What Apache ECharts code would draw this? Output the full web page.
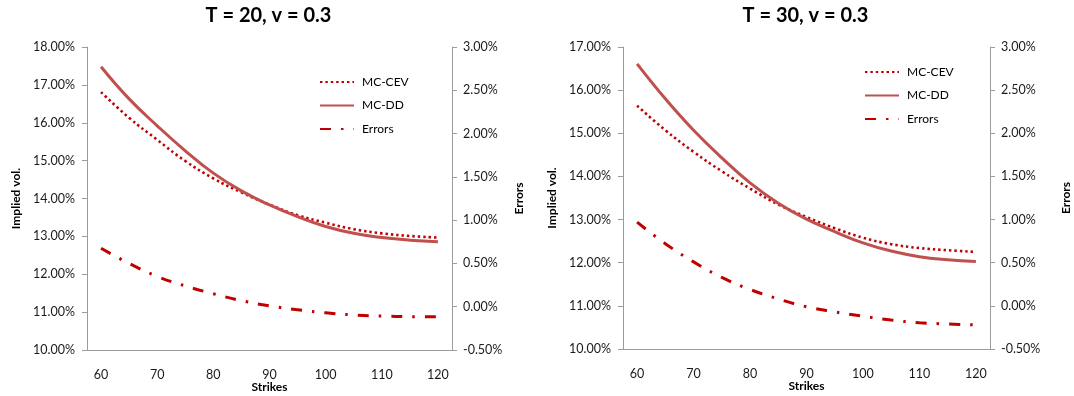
<!DOCTYPE html>
<html>
<head>
<meta charset="utf-8">
<script src="https://cdn.jsdelivr.net/npm/echarts@6/dist/echarts.min.js"></script>
<style>
body { margin: 0; background: #ffffff; }
#wrap { width: 1074px; height: 396px; position: relative; }
.half { position: absolute; top: 0; height: 396px; width: 537px; }
</style>
</head>
<body>
<div id="wrap">
    <div id="chart20" class="half" style="left: 0;"></div>
    <div id="chart30" class="half" style="left: 537px;"></div>
</div>
<script>
// strikes on the x axis
var strikes = ['60', '65', '70', '75', '80', '85', '90', '95', '100', '105', '110', '115', '120']

// T = 20 (implied vol in %, errors in %)
var cev20 = [16.81, 16.13, 15.55, 14.99, 14.53, 14.16, 13.84, 13.56, 13.36, 13.19, 13.08, 13.01, 12.97]
var dd20 = [17.48, 16.63, 15.92, 15.26, 14.67, 14.20, 13.83, 13.52, 13.26, 13.08, 12.97, 12.90, 12.86]
var err20 = [0.676, 0.50, 0.35, 0.24, 0.15, 0.07, 0.01, -0.035, -0.07, -0.095, -0.108, -0.115, -0.117]

// T = 30
var cev30 = [15.64, 15.07, 14.57, 14.12, 13.72, 13.35, 13.06, 12.80, 12.58, 12.43, 12.34, 12.29, 12.25]
var dd30 = [16.61, 15.80, 15.07, 14.43, 13.85, 13.38, 13.01, 12.72, 12.46, 12.27, 12.14, 12.07, 12.03]
var err30 = [0.97, 0.72, 0.51, 0.33, 0.19, 0.08, -0.01, -0.07, -0.12, -0.165, -0.195, -0.21, -0.22]

// axis ranges (%)
var volRange20 = [10, 18]
var volRange30 = [10, 17]
var errRange = [-0.5, 3]

var FONT = 'Lato, "Open Sans", sans-serif'
var AXIS_GREY = '#9c9c9c'

function pct (v) {
    return v.toFixed(2) + '%'
}

function buildOption (cfg) {
    return {
        animation: false,
        textStyle: { fontFamily: FONT },
        title: {
            text: cfg.title,
            left: 'center',
            top: 1,
            textStyle: { fontFamily: FONT, fontSize: 20, fontWeight: 'bold', color: '#000' }
        },
        legend: {
            orient: 'vertical',
            left: cfg.legendLeft,
            top: cfg.legendTop,
            itemWidth: 34,
            itemHeight: 14,
            itemGap: 11.5,
            itemStyle: { opacity: 0 },
            textStyle: { fontFamily: FONT, fontSize: 12, color: '#000', padding: [0, 0, 0, 3] },
            data: ['MC-CEV', 'MC-DD', 'Errors']
        },
        grid: {
            left: cfg.gridLeft,
            top: 47,
            width: cfg.gridWidth,
            height: cfg.gridHeight,
            outerBoundsMode: 'none'
        },
        xAxis: {
            type: 'category',
            data: strikes,
            boundaryGap: true,
            name: 'Strikes',
            nameLocation: 'middle',
            nameGap: 31,
            nameMoveOverlap: false,
            nameTextStyle: { fontFamily: FONT, fontSize: 12, fontWeight: 'bold', color: '#000' },
            axisLine: { onZero: false, lineStyle: { color: AXIS_GREY, width: 1 } },
            axisTick: { interval: 0, length: 4, lineStyle: { color: AXIS_GREY } },
            axisLabel: { interval: 1, margin: 18, fontFamily: FONT, fontSize: 12.5, color: '#1a1a1a' },
            splitLine: { show: false }
        },
        yAxis: [
            {
                type: 'value',
                min: cfg.volRange[0],
                max: cfg.volRange[1],
                interval: 1,
                name: 'Implied vol.',
                nameLocation: 'middle',
                nameRotate: 90,
                nameGap: 64,
                nameTextStyle: { fontFamily: FONT, fontSize: 12, fontWeight: 'bold', color: '#000' },
                axisLine: { show: true, lineStyle: { color: AXIS_GREY, width: 1 } },
                axisTick: { show: true, length: 5, lineStyle: { color: AXIS_GREY } },
                axisLabel: { margin: 12, fontFamily: FONT, fontSize: 12.5, color: '#1a1a1a', formatter: pct },
                splitLine: { show: false }
            },
            {
                type: 'value',
                position: 'right',
                min: errRange[0],
                max: errRange[1],
                interval: 0.5,
                name: 'Errors',
                nameLocation: 'middle',
                nameRotate: 90,
                nameGap: cfg.errGap,
                nameTextStyle: { fontFamily: FONT, fontSize: 12, fontWeight: 'bold', color: '#000' },
                axisLine: { show: true, lineStyle: { color: AXIS_GREY, width: 1 } },
                axisTick: { show: true, length: 5, lineStyle: { color: AXIS_GREY } },
                axisLabel: { margin: 11, fontFamily: FONT, fontSize: 12.5, color: '#1a1a1a', formatter: pct },
                splitLine: { show: false }
            }
        ],
        series: [
            {
                name: 'MC-CEV',
                type: 'line',
                yAxisIndex: 0,
                smooth: 0.45,
                symbol: 'none',
                data: cfg.cev,
                lineStyle: { color: '#C00000', width: 2.6, type: [2.4, 3] },
                itemStyle: { color: '#C00000' }
            },
            {
                name: 'MC-DD',
                type: 'line',
                yAxisIndex: 0,
                smooth: 0.45,
                symbol: 'none',
                data: cfg.dd,
                lineStyle: { color: '#C0504D', width: 3, type: 'solid' },
                itemStyle: { color: '#C0504D' }
            },
            {
                name: 'Errors',
                type: 'line',
                yAxisIndex: 1,
                smooth: 0.45,
                symbol: 'none',
                data: cfg.err,
                lineStyle: { color: '#C00000', width: 3, type: [11, 10, 2.5, 10] },
                itemStyle: { color: '#C00000' }
            }
        ]
    }
}

var chart20 = echarts.init(document.getElementById('chart20'))
chart20.setOption(buildOption({
    title: 'T = 20, v = 0.3',
    cev: cev20, dd: dd20, err: err20,
    volRange: volRange20,
    gridLeft: 87, gridWidth: 365, gridHeight: 303,
    legendLeft: 314, legendTop: 71,
    errGap: 48
}))

var chart30 = echarts.init(document.getElementById('chart30'))
chart30.setOption(buildOption({
    title: 'T = 30, v = 0.3',
    cev: cev30, dd: dd30, err: err30,
    volRange: volRange30,
    gridLeft: 86, gridWidth: 367, gridHeight: 302,
    legendLeft: 322, legendTop: 61,
    errGap: 70
}))
</script>
</body>
</html>
